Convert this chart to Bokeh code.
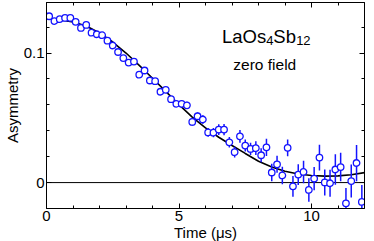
from bokeh.plotting import figure
from bokeh.models import (Range1d, LinearAxis, FixedTicker, Span, Label,
                          ColumnDataSource, CustomJSTickFormatter)
from bokeh.embed import file_html
from bokeh.resources import INLINE

# ---------------- data ----------------
time_us = [0.1, 0.3, 0.5, 0.7, 0.9, 1.1, 1.3, 1.5, 1.7, 1.9,
           2.1, 2.3, 2.5, 2.7, 2.9, 3.1, 3.3, 3.5, 3.7, 3.9,
           4.1, 4.3, 4.5, 4.7, 4.9, 5.1, 5.3, 5.5, 5.7, 5.9,
           6.1, 6.3, 6.5, 6.7, 6.9, 7.1, 7.3, 7.5, 7.7, 7.9,
           8.1, 8.3, 8.5, 8.7, 8.9, 9.1, 9.3, 9.5, 9.7, 9.9,
           10.1, 10.3, 10.5, 10.7, 10.9, 11.1, 11.3, 11.5, 11.7, 11.9]
asymmetry = [0.1284, 0.1247, 0.1261, 0.1271, 0.1271, 0.1241, 0.1194, 0.1217, 0.1157, 0.1145,
             0.1138, 0.1095, 0.1058, 0.1008, 0.0961, 0.0926, 0.0934, 0.0833, 0.0865, 0.0788,
             0.0783, 0.0701, 0.0716, 0.0644, 0.0608, 0.0608, 0.0596, 0.0468, 0.0512, 0.0487,
             0.0387, 0.0385, 0.0409, 0.0409, 0.0311, 0.0235, 0.0357, 0.0286, 0.0260, 0.0266,
             0.0211, 0.0272, 0.0078, 0.0141, 0.0055, 0.0268, -0.0029, 0.0062, 0.0082, -0.0057,
             0.0031, 0.0193, 0.0001, -0.0005, 0.0101, 0.0120, -0.0160, 0.0012, 0.0151, -0.0149]
asym_err = [0.0008, 0.0008, 0.0009, 0.0009, 0.0009, 0.0010, 0.0010, 0.0010, 0.0011, 0.0011,
            0.0012, 0.0012, 0.0013, 0.0014, 0.0014, 0.0015, 0.0016, 0.0017, 0.0018, 0.0019,
            0.0020, 0.0021, 0.0022, 0.0024, 0.0025, 0.0027, 0.0028, 0.0030, 0.0031, 0.0033,
            0.0034, 0.0036, 0.0042, 0.0043, 0.0040, 0.0042, 0.0049, 0.0047, 0.0047, 0.0054,
            0.0054, 0.0066, 0.0067, 0.0066, 0.0067, 0.0064, 0.0080, 0.0080, 0.0087, 0.0090,
            0.0090, 0.0100, 0.0100, 0.0105, 0.0118, 0.0110, 0.0118, 0.0127, 0.0140, 0.0130]

fit_time = [0.0, 0.5, 1.0, 1.5, 2.0, 2.5, 3.0, 3.5, 4.0, 4.5, 5.0, 5.5, 6.0,
            6.5, 7.0, 7.5, 8.0, 8.5, 9.0, 9.5, 10.0, 10.5, 11.0, 11.5, 12.0]
fit_asym = [0.1265, 0.1258, 0.1240, 0.1208, 0.1155, 0.1085, 0.1000, 0.0905, 0.0805,
            0.0704, 0.0602, 0.0505, 0.0422, 0.0350, 0.0286, 0.0225, 0.0165, 0.0120,
            0.0088, 0.0066, 0.0055, 0.0050, 0.0052, 0.0061, 0.0077]

x_major = [0, 5, 10]
x_minor = [1, 2, 3, 4, 6, 7, 8, 9, 11]
y_major = [0, 0.1]
y_minor = [0.02, 0.04, 0.06, 0.08, 0.12]

# ---------------- figure ----------------
FONT = "Liberation Sans"
BLUE = "#1414ff"

p = figure(width=366, height=243, x_range=Range1d(0, 12), y_range=Range1d(-0.02, 0.139),
           output_backend="svg", toolbar_location=None,
           x_axis_location=None, y_axis_location=None,
           min_border_left=0, min_border_right=2, min_border_top=2, min_border_bottom=0)
p.xgrid.visible = False
p.ygrid.visible = False
p.outline_line_color = "black"
p.outline_line_width = 1
p.background_fill_color = "white"
p.border_fill_color = "white"


def style_axis(ax, show_labels):
    ax.major_tick_in = 5
    ax.major_tick_out = 0
    ax.minor_tick_in = 3
    ax.minor_tick_out = 0
    ax.axis_line_color = "black"
    ax.major_tick_line_color = "black"
    ax.minor_tick_line_color = "black"
    ax.major_label_text_font = FONT
    ax.axis_label_text_font = FONT
    ax.axis_label_text_font_style = "normal"
    ax.axis_label_text_color = "black"
    ax.axis_label_text_font_size = "15px"
    if show_labels:
        ax.major_label_text_font_size = "15px"
        ax.major_label_text_color = "black"
    else:
        ax.major_label_text_font_size = "0px"
        ax.major_label_standoff = 0
        ax.formatter = CustomJSTickFormatter(code="return '';")


xb = LinearAxis(ticker=FixedTicker(ticks=x_major, minor_ticks=x_minor))
style_axis(xb, True)
xb.major_label_standoff = 2
xb.axis_label = "Time (\u03bcs)"
xb.axis_label_standoff = 0
p.add_layout(xb, "below")

xt = LinearAxis(ticker=FixedTicker(ticks=x_major, minor_ticks=x_minor))
style_axis(xt, False)
p.add_layout(xt, "above")

yl = LinearAxis(ticker=FixedTicker(ticks=y_major, minor_ticks=y_minor),
                formatter=CustomJSTickFormatter(code="return String(Math.round(tick*10)/10);"))
style_axis(yl, True)
yl.major_label_standoff = 2
yl.axis_label = "Asymmetry"
yl.axis_label_standoff = 0
p.add_layout(yl, "left")

yr = LinearAxis(ticker=FixedTicker(ticks=y_major, minor_ticks=y_minor))
style_axis(yr, False)
p.add_layout(yr, "right")

# zero line
p.add_layout(Span(location=0, dimension="width", line_color="black", line_width=1,
                  level="underlay"))

# fit curve
p.line(fit_time, fit_asym, line_color="black", line_width=1.6)

# data with error bars
lower = [a - e for a, e in zip(asymmetry, asym_err)]
upper = [a + e for a, e in zip(asymmetry, asym_err)]
src = ColumnDataSource(dict(t=time_us, a=asymmetry, lo=lower, hi=upper))
p.segment(x0="t", y0="lo", x1="t", y1="hi", source=src, line_color=BLUE, line_width=1.5)
p.scatter(x="t", y="a", source=src, marker="circle", size=6.5,
          line_color=BLUE, line_width=1.3, fill_color="white")

# compound label LaOs4Sb12
comp = [("LaOs", "18.5px", 0, 0), ("4", "13px", 44.2, -4), ("Sb", "18.5px", 51.4, 0),
        ("12", "13px", 74.2, -4)]
for txt, fs, dx, dy in comp:
    p.add_layout(Label(x=6.62, y=0.1125, x_offset=dx, y_offset=dy, text=txt,
                       text_font=FONT, text_font_size=fs, text_baseline="alphabetic",
                       text_align="left", text_color="black"))

p.add_layout(Label(x=7.05, y=0.0913, text="zero field", text_font=FONT,
                   text_font_size="15.5px", text_baseline="alphabetic",
                   text_align="left", text_color="black"))

open("out.html", "w").write(file_html(p, INLINE))
